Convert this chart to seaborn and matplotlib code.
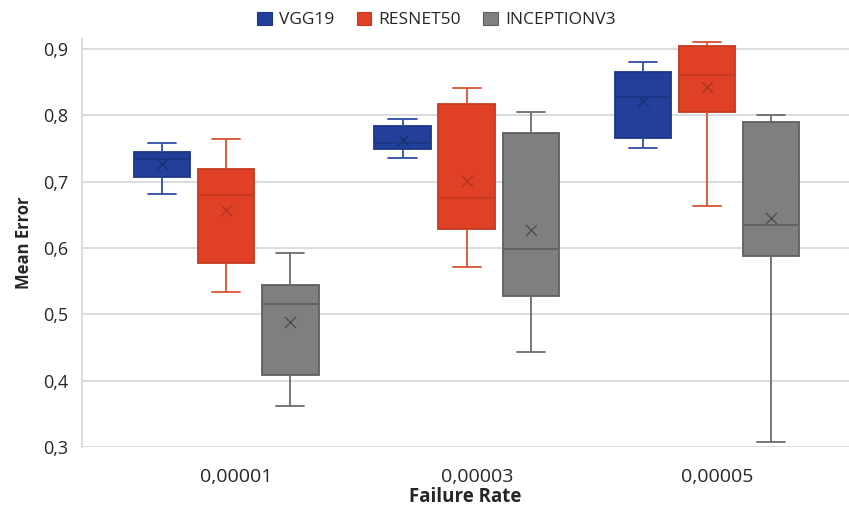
import numpy as np
import pandas as pd
import matplotlib
matplotlib.use("Agg")
import matplotlib.pyplot as plt
from matplotlib.patches import Patch
from matplotlib.transforms import ScaledTranslation
import seaborn as sns

rates = ["0,00001", "0,00003", "0,00005"]
models = ["VGG19", "RESNET50", "INCEPTIONV3"]

# five-number summaries (whisker low, Q1, median, Q3, whisker high) and mean
vgg_low    = [0.681, 0.736, 0.751]
vgg_q1     = [0.707, 0.749, 0.766]
vgg_median = [0.734, 0.759, 0.828]
vgg_q3     = [0.744, 0.784, 0.866]
vgg_high   = [0.758, 0.794, 0.880]
vgg_mean   = [0.726, 0.763, 0.821]

resnet_low    = [0.534, 0.572, 0.663]
resnet_q1     = [0.577, 0.628, 0.805]
resnet_median = [0.680, 0.676, 0.861]
resnet_q3     = [0.719, 0.817, 0.905]
resnet_high   = [0.765, 0.841, 0.911]
resnet_mean   = [0.658, 0.701, 0.842]

incep_low    = [0.362, 0.443, 0.307]
incep_q1     = [0.408, 0.527, 0.588]
incep_median = [0.516, 0.598, 0.634]
incep_q3     = [0.544, 0.774, 0.790]
incep_high   = [0.592, 0.805, 0.800]
incep_mean   = [0.488, 0.627, 0.645]

y_ticks = [0.3, 0.4, 0.5, 0.6, 0.7, 0.8, 0.9]
y_tick_labels = ["0,3", "0,4", "0,5", "0,6", "0,7", "0,8", "0,9"]

fill_colors = ["#22409a", "#e04126", "#7f7f7f"]
edge_colors = ["#1c3687", "#c43a20", "#5f5f5f"]
whisker_colors = ["#2f4ea3", "#d8532f", "#6b6b6b"]
mean_colors = ["#1a2f70", "#a8331c", "#4a4a4a"]

summaries = {
    "VGG19": (vgg_low, vgg_q1, vgg_median, vgg_q3, vgg_high, vgg_mean),
    "RESNET50": (resnet_low, resnet_q1, resnet_median, resnet_q3, resnet_high, resnet_mean),
    "INCEPTIONV3": (incep_low, incep_q1, incep_median, incep_q3, incep_high, incep_mean),
}

# five points per box reproduce its quartiles exactly with whis=(0, 100)
box_rows, mean_rows = [], []
for model, (lo, q1, med, q3, hi, mean) in summaries.items():
    for i, rate in enumerate(rates):
        for v in (lo[i], q1[i], med[i], q3[i], hi[i]):
            box_rows.append({"rate": rate, "model": model, "value": v})
        mean_rows.append({"rate": rate, "model": model, "value": mean[i]})
box_df = pd.DataFrame(box_rows)
mean_df = pd.DataFrame(mean_rows)

sns.set_theme(style="white")
plt.rcParams["font.family"] = ["Open Sans", "DejaVu Sans"]
text_color = "#262626"

fig = plt.figure(figsize=(8.49, 5.14), dpi=100)
ax = fig.add_axes([0.0966, 0.1304, 0.9034, 0.7936])

sns.boxplot(data=box_df, x="rate", y="value", hue="model", order=rates,
            hue_order=models, palette=fill_colors, whis=(0, 100), width=0.8,
            gap=0.12, saturation=1, linewidth=1.3, legend=False, ax=ax)

for k, cont in enumerate(ax.containers):
    for b in cont.boxes:
        b.set_edgecolor(edge_colors[k])
    for ln in cont.whiskers:
        ln.set_color(whisker_colors[k])
        ln.set_linewidth(1.3)
    for ln in cont.caps:
        ln.set_color(whisker_colors[k])
        ln.set_linewidth(1.3)
    for ln in cont.medians:
        ln.set_color(edge_colors[k])
        ln.set_linewidth(1.3)

sns.stripplot(data=mean_df, x="rate", y="value", hue="model", order=rates,
              hue_order=models, palette=mean_colors, dodge=True, jitter=False,
              marker="x", s=8, linewidth=0.9, legend=False, ax=ax, zorder=5)

ax.set_xlim(-0.6, 2.59)
ax.set_ylim(0.3, 0.915)
ax.set_yticks(y_ticks)
ax.set_yticklabels(y_tick_labels)
ax.tick_params(axis="both", length=0, colors=text_color)
ax.tick_params(axis="y", pad=10, labelsize=13)
ax.tick_params(axis="x", pad=15, labelsize=14)
ax.yaxis.grid(True, color="#d9d9d9", linewidth=1.3)
ax.set_axisbelow(True)
for side in ("top", "right", "bottom"):
    ax.spines[side].set_visible(False)
ax.spines["left"].set_color("#d9d9d9")
ax.spines["left"].set_linewidth(1.3)

# category labels sit slightly right of the box groups
shift = ScaledTranslation(10 / 100, 0, fig.dpi_scale_trans)
for lbl in ax.get_xticklabels():
    lbl.set_transform(lbl.get_transform() + shift)

ax.set_ylabel("Mean Error", fontsize=12, fontweight="bold", color=text_color, labelpad=7)
ax.set_xlabel("Failure Rate", fontsize=13.5, fontweight="bold", color=text_color, labelpad=1)

handles = [Patch(facecolor=c, edgecolor=e, linewidth=0.8) for c, e in zip(fill_colors, edge_colors)]
fig.legend(handles, models, loc="upper center", bbox_to_anchor=(0.514, 1.008),
           ncol=3, frameon=False, fontsize=12.5, handlelength=0.85, handleheight=0.85,
           handletextpad=0.4, columnspacing=1.3, labelcolor=text_color)

fig.savefig("out.png", dpi=100)
